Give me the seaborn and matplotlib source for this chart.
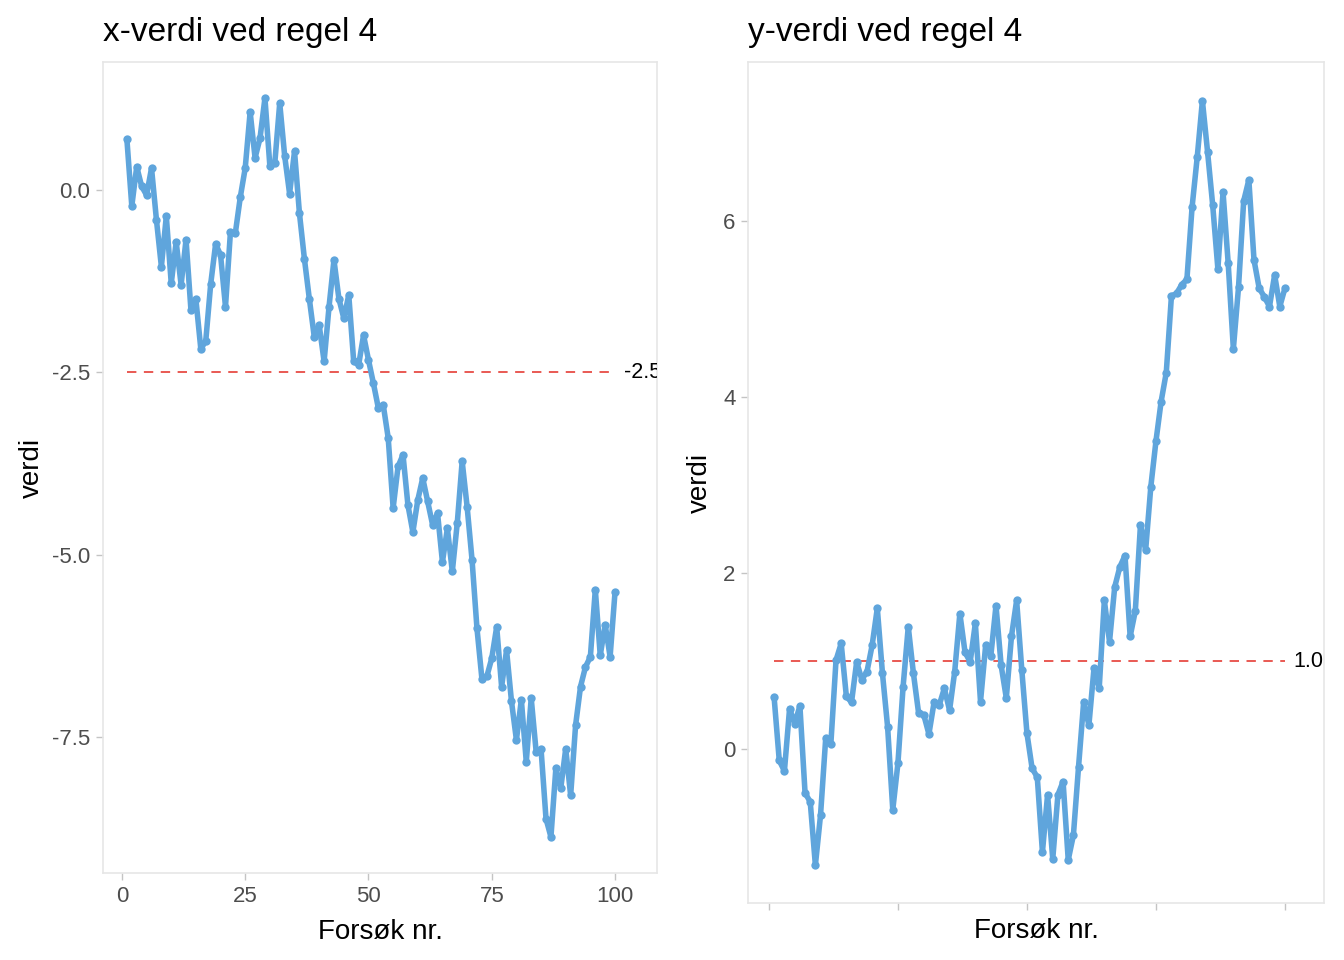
import numpy as np
import pandas as pd
import seaborn as sns
import matplotlib.pyplot as plt

# ---------------- data ----------------
forsok = list(range(1, 101))

x_verdi = [0.70, -0.22, 0.32, 0.05, -0.07, 0.30, -0.41, -1.05, -0.36, -1.28,
           -0.71, -1.30, -0.68, -1.65, -1.50, -2.18, -2.07, -1.29, -0.74, -0.89,
           -1.60, -0.58, -0.59, -0.10, 0.30, 1.07, 0.44, 0.71, 1.26, 0.33,
           0.37, 1.19, 0.47, -0.05, 0.53, -0.32, -0.94, -1.49, -2.01, -1.85,
           -2.35, -1.60, -0.96, -1.49, -1.76, -1.44, -2.35, -2.40, -1.99, -2.33,
           -2.65, -2.99, -2.95, -3.40, -4.36, -3.79, -3.63, -4.32, -4.69, -4.25,
           -3.95, -4.27, -4.59, -4.43, -5.10, -4.64, -5.23, -4.57, -3.72, -4.34,
           -5.07, -6.01, -6.70, -6.67, -6.42, -5.99, -6.81, -6.31, -7.01, -7.54,
           -6.99, -7.84, -6.97, -7.70, -7.67, -8.62, -8.87, -7.93, -8.20, -7.66,
           -8.30, -7.34, -6.81, -6.54, -6.40, -5.48, -6.38, -5.96, -6.40, -5.51]

y_verdi = [0.59, -0.13, -0.25, 0.46, 0.29, 0.49, -0.50, -0.60, -1.32, -0.75,
           0.12, 0.06, 1.01, 1.20, 0.60, 0.53, 0.99, 0.79, 0.88, 1.18,
           1.60, 0.86, 0.25, -0.69, -0.16, 0.71, 1.39, 0.86, 0.41, 0.39,
           0.17, 0.53, 0.50, 0.69, 0.44, 0.88, 1.54, 1.10, 0.99, 1.43,
           0.54, 1.18, 1.06, 1.63, 0.95, 0.58, 1.28, 1.69, 0.90, 0.18,
           -0.22, -0.32, -1.17, -0.52, -1.25, -0.52, -0.37, -1.26, -0.98, -0.20,
           0.54, 0.27, 0.92, 0.69, 1.69, 1.22, 1.84, 2.07, 2.20, 1.28,
           1.57, 2.55, 2.26, 2.98, 3.50, 3.95, 4.28, 5.15, 5.18, 5.28,
           5.34, 6.16, 6.73, 7.37, 6.79, 6.18, 5.46, 6.33, 5.52, 4.55,
           5.25, 6.23, 6.47, 5.56, 5.24, 5.14, 5.03, 5.39, 5.03, 5.24]

x_ref = -2.5
y_ref = 1.0

titles = ["x-verdi ved regel 4", "y-verdi ved regel 4"]
x_ticks = [0, 25, 50, 75, 100]
x_yticks = [0.0, -2.5, -5.0, -7.5]
y_yticks = [0, 2, 4, 6]

df = pd.DataFrame({"forsok": forsok, "x": x_verdi, "y": y_verdi})

# ---------------- style ----------------
sns.set_theme(style="white")
plt.rcParams['font.family'] = ['Liberation Sans', 'DejaVu Sans']

LINE = "#5FA5DC"
REF = "#E8534C"
BORDER = "#E6E6E6"
TICK = "#C4C4C4"
TXT = "#4D4D4D"

fig = plt.figure(figsize=(13.44, 9.6), dpi=100)
ax1 = fig.add_axes([0.0766, 0.0906, 0.4122, 0.8448])
ax2 = fig.add_axes([0.5565, 0.0594, 0.4286, 0.8760])


def panel(ax, col, ref, title, yticks, ylim, xlim, ref_label, label_x, show_xlabels):
    sns.lineplot(data=df, x="forsok", y=col, ax=ax, color=LINE, linewidth=4.0,
                 marker="o", markersize=6, markeredgewidth=0, zorder=3)
    ax.plot([forsok[0], forsok[-1]], [ref, ref], color=REF, linestyle=(0, (5, 4)),
            linewidth=1.35, zorder=2)
    ax.text(label_x, ref, ref_label, fontsize=15.5, color="black", ha="center",
            va="center", clip_on=True)
    ax.set_xlim(*xlim)
    ax.set_ylim(*ylim)
    ax.set_xticks(x_ticks)
    ax.set_yticks(yticks)
    if show_xlabels:
        ax.set_xticklabels([str(t) for t in x_ticks])
    else:
        ax.set_xticklabels([])
    ax.set_yticklabels([f"{t:.1f}" if isinstance(t, float) else str(t) for t in yticks])
    ax.tick_params(axis="both", length=5, width=1, color=TICK, labelcolor=TXT,
                   labelsize=16, pad=4, bottom=True, left=True)
    for s in ax.spines.values():
        s.set_color(BORDER)
        s.set_linewidth(1.2)
    ax.grid(False)
    ax.set_title(title, loc="left", fontsize=24, pad=15, color="black")
    ax.set_xlabel("Forsøk nr.", fontsize=20, color="black")
    ax.set_ylabel("verdi", fontsize=20, color="black")


panel(ax1, "x", x_ref, titles[0], x_yticks, (-9.365, 1.755), (-3.85, 108.5),
      "-2.5", 105.5, True)
panel(ax2, "y", y_ref, titles[1], y_yticks, (-1.75, 7.81), (-4.07, 107.56),
      "1.0", 104.5, False)

ax1.xaxis.labelpad = 9
ax2.xaxis.labelpad = 2
ax1.yaxis.labelpad = 5
ax2.yaxis.labelpad = 7

plt.savefig("out.png", dpi=100)
